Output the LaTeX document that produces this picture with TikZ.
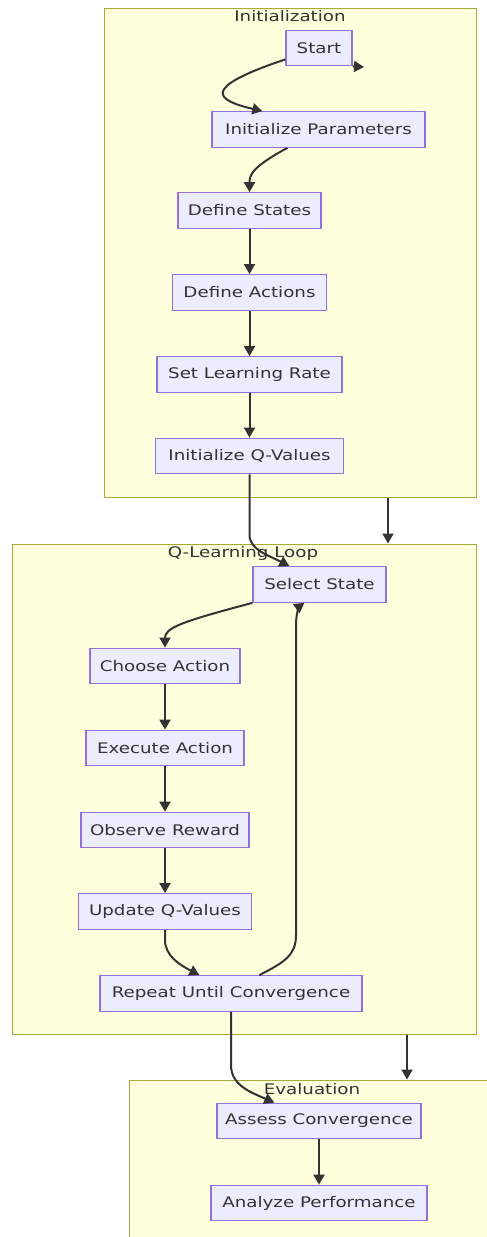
\documentclass[tikz,border=0pt]{standalone}
\usepackage{fontspec}
\setmainfont{DejaVu Sans}[FakeStretch=1.25]
\usetikzlibrary{arrows.meta,calc}
\definecolor{clfill}{HTML}{FFFFDE}
\definecolor{cldraw}{HTML}{AAAA33}
\definecolor{ndfill}{HTML}{ECECFF}
\definecolor{nddraw}{HTML}{9370DB}
\definecolor{txt}{HTML}{333333}
\tikzset{
  cluster/.style={draw=cldraw, fill=clfill, line width=1pt, inner sep=0pt},
  box/.style={draw=nddraw, fill=ndfill, line width=1.3pt, inner sep=0pt, minimum height=35.5pt, text=txt, font=\fontsize{14.6}{16}\selectfont},
  ctitle/.style={text=txt, font=\fontsize{14.6}{16}\selectfont, inner sep=0pt},
  arr/.style={draw=txt, line width=2pt, -{Triangle[length=10pt,width=11pt]}},
}
\begin{document}
\begin{tikzpicture}[x=1pt,y=-1pt]
\useasboundingbox (0,0) rectangle (487,1237);
\fill[white] (0,0) rectangle (487,1237);
% clusters
\node[cluster, minimum width=372pt, minimum height=489pt] (C1) at (290,252.5) {};
\node[cluster, minimum width=464pt, minimum height=490pt] (C2) at (244,789) {};
\begin{scope}
\clip (0,0) rectangle (487,1237);
\node[cluster, minimum width=370pt, minimum height=180pt] (C3) at (314,1170) {};
\end{scope}
\node[ctitle] (T1) at (290,16) {Initialization};
\node[ctitle] (T2) at (243,553) {Q-Learning Loop};
\node[ctitle] (T3) at (312,1089) {Evaluation};
% nodes
\node[box, minimum width=66pt] (Start) at (319,48) {Start};
\node[box, minimum width=213pt] (IP) at (318.5,129.5) {Initialize Parameters};
\node[box, minimum width=143pt] (DS) at (249.5,210.5) {Define States};
\node[box, minimum width=154pt] (DA) at (249.5,292.5) {Define Actions};
\node[box, minimum width=185pt] (SLR) at (249.5,374.5) {Set Learning Rate};
\node[box, minimum width=188pt] (IQV) at (249.5,456) {Initialize Q-Values};
\node[box, minimum width=133pt] (SS) at (319.5,584.5) {Select State};
\node[box, minimum width=150pt] (CA) at (165,666) {Choose Action};
\node[box, minimum width=158pt] (EA) at (165,748) {Execute Action};
\node[box, minimum width=168pt] (OR) at (165,830) {Observe Reward};
\node[box, minimum width=173pt] (UQ) at (165,911.5) {Update Q-Values};
\node[box, minimum width=262pt] (RUC) at (231,993.5) {Repeat Until Convergence};
\node[box, minimum width=204pt] (AC) at (319,1121) {Assess Convergence};
\node[box, minimum width=216pt] (AP) at (319,1203) {Analyze Performance};
% connectors
\coordinate (s1) at (364,67);
\coordinate (x1) at (388,0);
\coordinate (x2) at (407,0);
\draw[arr] (Start.south east) -- (s1);
\draw[arr] ($(Start.south west)+(0,-7)$) .. controls (200,88) and (215,100) .. ($(IP.north west)+(51,0)$);
\draw[arr] ($(IP.south west)+(76,0)$) .. controls (252,167) and (249.5,175) .. (DS.north);
\draw[arr] (DS) -- (DA);
\draw[arr] (DA) -- (SLR);
\draw[arr] (SLR) -- (IQV);
\draw[arr] (IQV.south) -- (249.5,535) .. controls (249.5,550) and (270,556) .. ($(SS.north west)+(37,0)$);
\draw[arr] (C1.south -| x1) -- (C2.north -| x1);
\draw[arr] (SS.south west) .. controls (180,622) and (165,628) .. (CA.north);
\draw[arr] (CA) -- (EA);
\draw[arr] (EA) -- (OR);
\draw[arr] (OR) -- (UQ);
\draw[arr] (UQ.south) -- (165,940) .. controls (165,956) and (180,965) .. ($(RUC.north west)+(100,0)$);
\draw[arr] ($(RUC.north west)+(160,0)$) .. controls (285,962) and (296,955) .. (296,935) -- (296,625) .. controls (296,612) and (300,606) .. ($(SS.south west)+(52,0)$);
\draw[arr] (C2.south -| x2) -- (C3.north -| x2);
\draw[arr] (RUC.south) -- (231,1065) .. controls (231,1085) and (250,1092) .. ($(AC.north west)+(58,0)$);
\draw[arr] (AC) -- (AP);
\end{tikzpicture}
\end{document}
